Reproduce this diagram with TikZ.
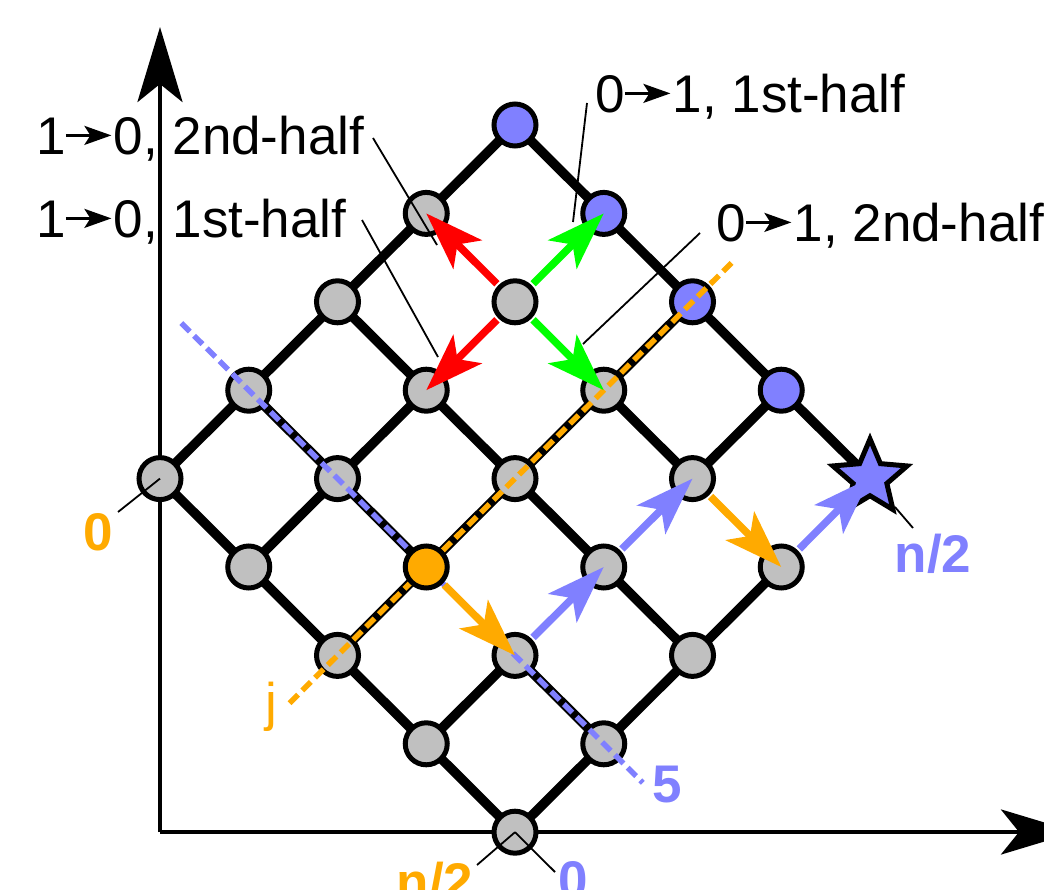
\documentclass[tikz,border=0pt]{standalone}
\usepackage{fontspec}
\setmainfont{Liberation Sans}
\usetikzlibrary{arrows.meta,shapes.geometric,calc}
\pgfdeclarelayer{bg}\pgfdeclarelayer{fg}
\pgfsetlayers{bg,main,fg}
\definecolor{cgray}{HTML}{C0C0C0}
\definecolor{cblue}{HTML}{8080FF}
\definecolor{corange}{HTML}{FFAA00}
\definecolor{cred}{HTML}{FF0000}
\definecolor{cgreen}{HTML}{00FF00}
\newcommand\darr{\kern-0.02em\tikz[baseline=0pt]\draw[black,line width=2.4pt,-{Stealth[length=27pt,width=19pt,inset=6pt]}] (0pt,0.37em) -- (0.86em,0.37em);\kern0.02em}
\begin{document}
\begin{tikzpicture}[x=1pt,y=-1pt,
  font=\fontsize{53}{60}\selectfont,
  gnode/.style={circle,draw=black,line width=5pt,fill=cgray,minimum size=42pt,inner sep=0pt},
  bnode/.style={gnode,fill=cblue},
  onode/.style={gnode,fill=corange},
  gridline/.style={line width=9.5pt,black},
  dline/.style={line width=5.5pt,dash pattern=on 12pt off 6pt},
  carrow/.style={line width=7.5pt,shorten <=2pt,-{Stealth[length=58pt,width=40pt,inset=14pt]}},
  axis/.style={line width=4.5pt,-{Stealth[length=75pt,width=45pt,inset=18pt]}},
  leader/.style={line width=1.8pt,black},
  lbl/.style={inner sep=0pt,anchor=base west},
  clbl/.style={inner sep=0pt,anchor=base,font=\fontsize{53}{60}\selectfont\bfseries}]
\useasboundingbox (0,0) rectangle (1044,890);

% grid nodes
\foreach \a in {0,...,4}{\foreach \b in {1,...,4}{
  \ifnum\a\b=23 \else
  \node[gnode] (n\a\b) at ({515+88.75*(\a-\b)},{125+88.4*(\a+\b)}) {};
  \fi}}
\foreach \a in {0,...,3}{
  \node[bnode] (n\a0) at ({515+88.75*\a},{125+88.4*\a}) {};}

% axes
\coordinate (O) at (160,832);
\coordinate (Ytip) at (160,27);
\coordinate (Xtip) at (1076,832);
\begin{pgfonlayer}{bg}
\draw[axis] (O) -- (Ytip);
\draw[axis] (O) -- (Xtip);
\end{pgfonlayer}

% star node
\node[star,star points=5,star point ratio=2.2,minimum size=78pt,inner sep=0pt,
      draw=black,line width=5pt,fill=cblue] (n40) at (870,478) {};
% orange node position (node drawn later on fg)
\coordinate (p23) at ({515+88.75*(2-3)},{125+88.4*(2+3)});

% grid edges
\begin{pgfonlayer}{bg}
\foreach \p/\q in {00/10,10/20,20/30,30/40,21/31,02/12,12/22,22/32,32/42,
                   03/13,13/23,33/43,04/14,14/24,24/34,34/44,
                   00/01,01/02,02/03,03/04,12/13,13/14,20/21,21/22,22/23,23/24,
                   30/31,33/34,41/42,42/43,43/44}{
  \ifnum\q=23 \draw[gridline] (n\p.center) -- (p23);
  \else\ifnum\p=23 \draw[gridline] (p23) -- (n\q.center);
  \else \draw[gridline] (n\p.center) -- (n\q.center);
  \fi\fi}
\end{pgfonlayer}

\begin{pgfonlayer}{fg}
% dashed lines
\coordinate (bd1) at ($(n03.center)!-0.19!(n43.center)$);
\coordinate (bd2) at ($(n03.center)!1.11!(n43.center)$);
\coordinate (od1) at ($(n24.center)!-0.135!(n20.center)$);
\coordinate (od2) at ($(n24.center)!1.11!(n20.center)$);
\draw[dline,cblue] (bd1) -- (bd2);
\draw[dline,corange] (od1) -- (od2);
% orange node
\node[onode] (n23) at (p23) {};
% arrows
\draw[carrow,cred] (n11) -- (n01.center);
\draw[carrow,cred] (n11) -- (n12.center);
\draw[carrow,cgreen] (n11) -- (n10.center);
\draw[carrow,cgreen] (n11) -- (n21.center);
\draw[carrow,corange] (n23) -- (n33.center);
\draw[carrow,cblue] (n33) -- (n32.center);
\draw[carrow,cblue] (n32) -- (n31.center);
\draw[carrow,corange] (n31) -- (n41.center);
\draw[carrow,cblue] (n41) -- (n40.center);

% text labels
\node[lbl] (t1) at (36,155) {1\darr0, 2nd-half};
\node[lbl] (t2) at (36,238) {1\darr0, 1st-half};
\node[lbl] (t3) at (595,113) {0\darr1, 1st-half};
\node[lbl] (t4) at (716,242) {0\darr1, 2nd-half};
\coordinate (l1a) at (373,138); \coordinate (l1b) at (437,245);
\coordinate (l2a) at (362,220); \coordinate (l2b) at (438,357);
\coordinate (l3a) at (587,103); \coordinate (l3b) at (573,222);
\coordinate (l4a) at (700,233); \coordinate (l4b) at (583,344);
\draw[leader] (l1a) -- (l1b);
\draw[leader] (l2a) -- (l2b);
\draw[leader] (l3a) -- (l3b);
\draw[leader] (l4a) -- (l4b);

% colored labels
\node[clbl,text=corange] (z0) at (98,550) {0};
\node[clbl,font=\fontsize{53}{60}\selectfont,text=corange] (jl) at (271,720) {j};
\node[clbl,text=cblue] (f5) at (667,802) {5};
\node[clbl,text=cblue] (nh) at (933,572) {n/2};
\node[clbl,text=corange] (nb) at (435,900) {n/2};
\node[clbl,text=cblue] (zb) at (573,898) {0};
\coordinate (lz0) at (118,512);
\coordinate (lnh) at (913,528);
\coordinate (lnb) at (477,865);
\coordinate (lzb) at (555,872);
\draw[leader] (lz0) -- (n04.center);
\draw[leader] (lnb) -- (n44.center);
\draw[leader] (n44.center) -- (lzb);
\end{pgfonlayer}
\begin{pgfonlayer}{bg}
\draw[leader] (n40) -- (lnh);
\end{pgfonlayer}
\end{tikzpicture}
\end{document}
